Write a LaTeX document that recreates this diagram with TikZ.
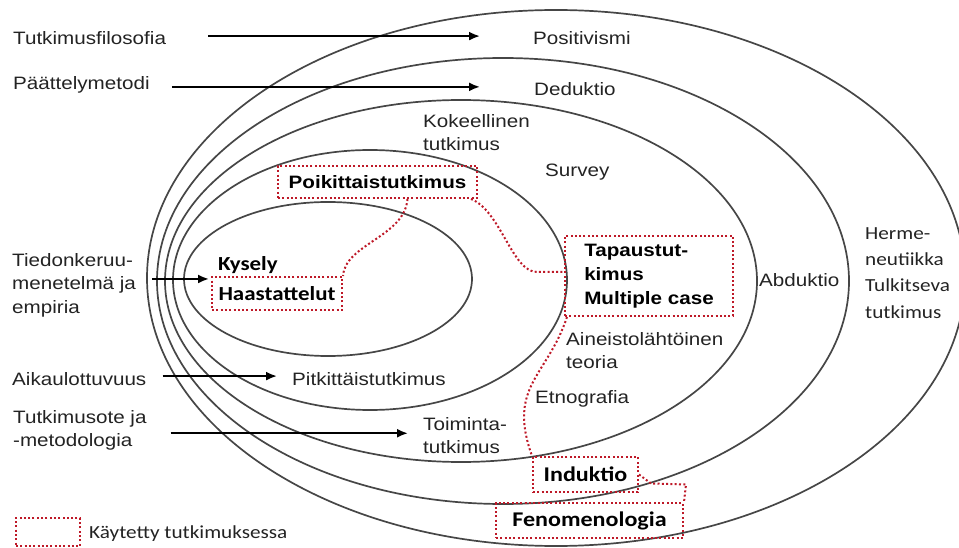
\documentclass[tikz,border=0pt]{standalone}
\usepackage{fontspec}
\setmainfont{Liberation Sans}[FakeStretch=1.15]
\newfontfamily\kalibri{Carlito}[FakeStretch=1.15]
\usetikzlibrary{arrows.meta}

\definecolor{punainen}{RGB}{190,25,40}
\definecolor{harmaa}{RGB}{70,70,70}
\definecolor{tekstiv}{RGB}{35,35,35}

\tikzset{
  kuori/.style={draw=harmaa, line width=1.7bp},
  nuoli/.style={-{Latex[length=11bp,width=9bp]}, line width=2bp, black},
  katko/.style={draw=punainen, line width=2bp, dash pattern=on 2bp off 2.3bp},
  teksti/.style={font=\fontsize{18}{23.5}\selectfont, text=tekstiv, inner sep=0pt, align=left},
  lihava/.style={teksti, font=\fontsize{18}{24}\selectfont\bfseries, text=black},
  kali/.style={teksti, font=\kalibri\fontsize{18.5}{26.5}\selectfont},
  kalilihava/.style={teksti, font=\kalibri\bfseries\fontsize{21}{24}\selectfont, text=black},
  valittu/.style={katko, anchor=center}
}

\begin{document}
\begin{tikzpicture}[x=1bp, y=-1bp]
    \useasboundingbox (0,0) rectangle (959,548);

    % sipulin kuoret
    \draw[kuori] (556,278) ellipse [x radius=409, y radius=268];
    \draw[kuori] (503,281) ellipse [x radius=346, y radius=223];
    \draw[kuori] (461,281) ellipse [x radius=296, y radius=181];
    \draw[kuori] (370,280) ellipse [x radius=197, y radius=130];
    \draw[kuori] (328,279) ellipse [x radius=144, y radius=77];

    % vasemman reunan otsikot
    \node[teksti, anchor=base west] (filo) at (13,45) {Tutkimusfilosofia};
    \node[teksti, anchor=base west] (paat) at (13,90) {Päättelymetodi};
    \node[teksti, anchor=north west] (tiedon) at (12,253) {Tiedonkeruu-\\menetelmä ja\\empiria};
    \node[teksti, anchor=base west] (aika) at (12,385) {Aikaulottuvuus};
    \node[teksti, anchor=north west] (tutk) at (13,410) {Tutkimusote ja\\-metodologia};

    % kuorten sisällöt
    \node[teksti, anchor=base west] (posit) at (533,45) {Positivismi};
    \node[teksti, anchor=base west] (dedu) at (534,96) {Deduktio};
    \node[teksti, anchor=north west] (kokee) at (423,114) {Kokeellinen\\tutkimus};
    \node[teksti, anchor=base west] (survey) at (545,177) {Survey};
    \node[teksti, anchor=base west] (abdu) at (759,287) {Abduktio};
    \node[kali, anchor=north west] (herme) at (865,227) {Herme-\\neutiikka\\Tulkitseva\\tutkimus};
    \node[teksti, anchor=north west] (aineisto) at (566,332) {Aineistolähtöinen\\teoria};
    \node[teksti, anchor=base west] (etno) at (535,403) {Etnografia};
    \node[teksti, anchor=base west] (pitk) at (292,385) {Pitkittäistutkimus};
    \node[teksti, anchor=north west] (toimi) at (423,417) {Toiminta-\\tutkimus};
    \node[kalilihava, font=\kalibri\bfseries\fontsize{20}{24}\selectfont, anchor=base west] (kysely) at (218,271) {Kysely};

    % käytetyt (katkoviivalaatikot)
    \node[valittu, lihava, minimum width=199bp, minimum height=32bp] (poik) at (377.5,182) {Poikittaistutkimus};
    \node[valittu, kalilihava, font=\kalibri\bfseries\fontsize{20}{24}\selectfont, minimum width=130bp, minimum height=33bp] (haast) at (277,293.5) {Haastattelut};
    \node[valittu, lihava, minimum width=168bp, minimum height=80bp] (tapaus) at (649,276) {Tapaustut-\\kimus\\Multiple case};
    \node[valittu, kalilihava, minimum width=105bp, minimum height=35bp] (indu) at (585.5,474.5) {Induktio};
    \node[valittu, kalilihava, minimum width=187bp, minimum height=35bp] (fenom) at (589.5,520.5) {Fenomenologia};

    % nuolet
    \draw[nuoli] ([xshift=42bp, yshift=2.5bp]filo.east) -- ([xshift=-53bp, yshift=2.5bp]posit.west |- filo.east);
    \draw[nuoli] ([xshift=22bp, yshift=-1.5bp]paat.east) -- ([xshift=-54bp, yshift=-1.5bp]dedu.west |- paat.east);
    \draw[nuoli] ([xshift=16bp, yshift=6bp]tiedon.east) -- ([xshift=-2bp, yshift=6bp]haast.west |- tiedon.east);
    \draw[nuoli] ([xshift=16bp, yshift=2.5bp]aika.east) -- ([xshift=-15bp, yshift=2.5bp]pitk.west |- aika.east);
    \draw[nuoli] ([xshift=24bp, yshift=-3bp]tutk.east) -- ([xshift=-15bp, yshift=-3bp]toimi.west |- tutk.east);

    % punaiset yhteydet
    \draw[katko] ([xshift=30bp]poik.south) .. controls +(-3,38) and +(2,-32) .. (haast.north east);
    \draw[katko] ([xshift=-7bp]poik.south east) .. controls +(30,12) and +(-25,0) .. ([xshift=-27bp, yshift=4bp]tapaus.west) -- ([yshift=4bp]tapaus.west);
    \draw[katko] ([xshift=3bp]tapaus.south west) .. controls +(-20,60) and +(-25,-70) .. (indu.north west);
    \draw[katko] (indu.east) -- ++(12,9) -- ++(35,1) -- (fenom.north east);

    % selite
    \node[valittu, minimum width=64bp, minimum height=28bp] (selite) at (48,532) {};
    \node[kali, anchor=base west] (selitet) at (89,538) {Käytetty tutkimuksessa};
\end{tikzpicture}
\end{document}
